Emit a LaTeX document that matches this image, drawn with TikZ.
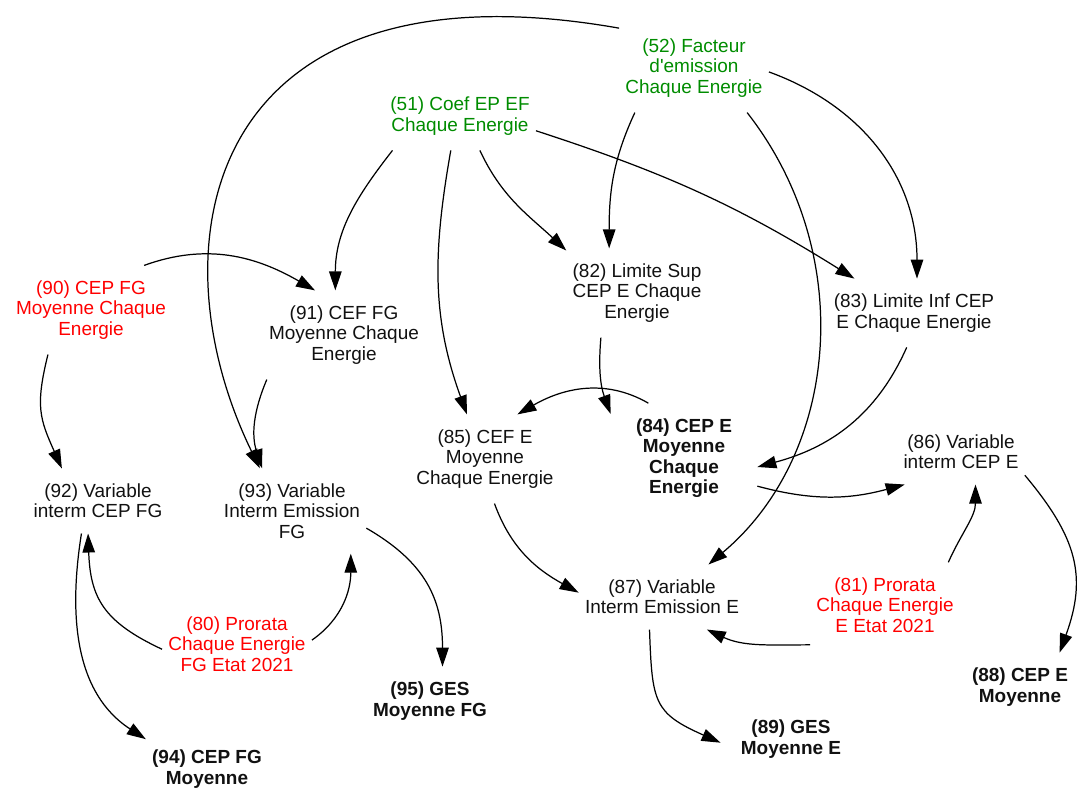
\documentclass[tikz,border=0pt]{standalone}
\usepackage{fontspec}
\setmainfont{Liberation Sans}
\usetikzlibrary{arrows.meta}
\definecolor{given}{HTML}{008C00}
\definecolor{shadow}{HTML}{FF0000}
\definecolor{ink}{HTML}{111111}

\begin{document}
\begin{tikzpicture}[x=0.2mm, y=0.2mm,
  var/.style={font={\fontsize{10.8}{11.6}\selectfont}, text=ink, align=center, inner xsep=1.2mm, inner ysep=3mm},
  cst/.style={var, text=given},
  shd/.style={var, text=shadow},
  res/.style={var, font={\fontsize{10.8}{11.6}\selectfont\bfseries}},
  arr/.style={-{Triangle[length=3.8mm,width=2.5mm]}, line width=0.7pt, black}]
  \useasboundingbox (0,0) rectangle (1077,-789);
  \node[cst] (n51) at (460,-116) {(51) Coef EP EF\\Chaque Energie};
  \node[cst] (n52) at (694,-68)  {(52) Facteur\\d\textquotesingle emission\\Chaque Energie};
  \node[var] (n82) at (637,-293) {(82) Limite Sup\\CEP E Chaque\\Energie};
  \node[var] (n83) at (914,-313) {(83) Limite Inf CEP\\E Chaque Energie};
  \node[shd] (n90) at (91,-310)  {(90) CEP FG\\Moyenne Chaque\\Energie};
  \node[var] (n91) at (344,-335) {(91) CEF FG\\Moyenne Chaque\\Energie};
  \node[var] (n85) at (485,-459) {(85) CEF E\\Moyenne\\Chaque Energie};
  \node[res, inner xsep=5mm] (n84) at (684,-458) {(84) CEP E\\Moyenne\\Chaque\\Energie};
  \node[var] (n86) at (961,-452) {(86) Variable\\interm CEP E};
  \node[var] (n92) at (98,-501)  {(92) Variable\\interm CEP FG};
  \node[var] (n93) at (292,-511) {(93) Variable\\Interm Emission\\FG};
  \node[var] (n87) at (662,-597) {(87) Variable\\Interm Emission E};
  \node[shd] (n81) at (885,-605) {(81) Prorata\\Chaque Energie\\E Etat 2021};
  \node[shd] (n80) at (237,-644) {(80) Prorata\\Chaque Energie\\FG Etat 2021};
  \node[res] (n95) at (430,-701) {(95) GES\\Moyenne FG};
  \node[res] (n94) at (207,-769) {(94) CEP FG\\Moyenne};
  \node[res] (n88) at (1020,-687) {(88) CEP E\\Moyenne};
  \node[res, inner xsep=4mm] (n89) at (791,-739) {(89) GES\\Moyenne E};
  \draw[arr] (n52.152) to[out=170, in=116, out distance=84mm, in distance=50mm] (n93.127);
  \draw[arr] (n52.-40) to[out=-52, in=40, out distance=36mm, in distance=34mm] (n87.35);
  \draw[arr] (n52.-3) to[out=-20, in=90, out distance=20mm, in distance=20mm] (n83.85);
  \draw[arr] (n52.-143) to[out=-115, in=90] (n82.122);
  \draw[arr] (n51.-153) to[out=-128, in=90] (n91.101);
  \draw[arr] (n51.-105) to[out=-100, in=110] (n85.112);
  \draw[arr] (n51.-60) to[out=-65, in=137] (n82.149);
  \draw[arr] (n51.-11) to[out=-18, in=148] (n83.150);
  \draw[arr] (n90.40) to[out=20, in=150] (n91.123);
  \draw[arr] (n90.-134) to[out=-104, in=114, looseness=1.2] (n92.138);
  \draw[arr] (n91.-150) to[out=-113, in=108] (n93.125);
  \draw[arr] (n92.-117) to[out=-99, in=147] (n94.154);
  \draw[arr] (n80.-176) to[out=155, in=-88, looseness=1.2] (n92.-107);
  \draw[arr] (n80.3) to[out=35, in=-90] (n93.-36);
  \draw[arr] (n93.-13) to[out=-30, in=90, looseness=1.1] (n95.70);
  \draw[arr] (n84.123) to[out=150, in=30] (n85.54);
  \draw[arr] (n82.-129) to[out=-95, in=110] (n84.149);
  \draw[arr] (n83.-102) to[out=-114, in=15] (n84.-7);
  \draw[arr] (n84.-21) to[out=-15, in=195] (n86.-150);
  \draw[arr] (n85.-78) to[out=-70, in=151] (n87.177);
  \draw[arr] (n86.-20) to[out=-50, in=70, looseness=1.15] (n88.41);
  \draw[arr] (n81.34) to[out=66, in=-90] (n86.-66);
  \draw[arr] (n81.-152) to[out=180, in=-25] (n87.-36);
  \draw[arr] (n87.-111) to[out=-88, in=156, looseness=1.4] (n89.183);
\end{tikzpicture}
\end{document}
